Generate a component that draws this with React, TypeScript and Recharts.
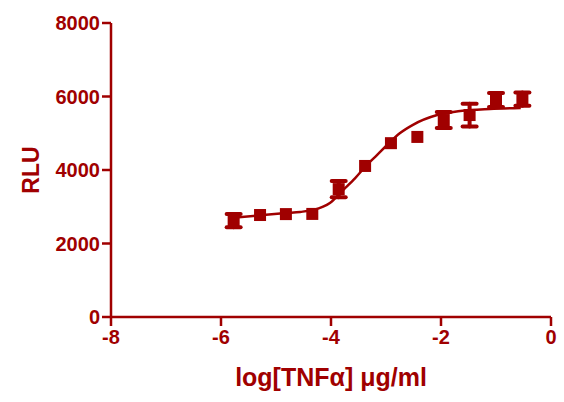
import { ComposedChart, Line, Scatter, ErrorBar, XAxis, YAxis, Label } from "recharts";

// measured points (3-fold dilutions), log10 concentration vs RLU
const logConc = [-5.77, -5.29, -4.82, -4.34, -3.86, -3.38, -2.91, -2.43, -1.95, -1.48, -1.0, -0.52];
const rlu = [2620, 2775, 2800, 2805, 3480, 4110, 4730, 4900, 5360, 5495, 5905, 5930];
// SEM, null where the bar is hidden by the marker
const rluErr = [180, null, null, null, 220, null, null, null, 220, 310, 190, 180];

// fitted sigmoid
const curveX = [-5.78, -5.24, -4.82, -4.56, -4.33, -4.02, -3.78, -3.56, -3.35, -3.16, -2.98, -2.75, -2.51, -2.07, -1.65, -1.11, -0.55];
const curveY = [2700, 2775, 2830, 2860, 2910, 3100, 3455, 3780, 4135, 4410, 4680, 5000, 5230, 5495, 5605, 5660, 5685];

const xTicks = [-8, -6, -4, -2, 0];
const yTicks = [0, 2000, 4000, 6000, 8000];

const RED = "#a00000";
const FONT = "Arial, 'Liberation Sans', Helvetica, sans-serif";

const points = logConc.map((x, i) => ({ x, y: rlu[i], err: rluErr[i] }));
const curve = curveX.map((x, i) => ({ x, y: curveY[i] }));

const SquareDot = (p: any) => (
  <rect x={p.cx - 6} y={p.cy - 6} width={12} height={12} fill={RED} />
);

export default function App() {
  const tick = { fill: RED, fontSize: 20, fontWeight: "bold", fontFamily: FONT };
  const axisLine = { stroke: RED, strokeWidth: 2.5 };

  return (
    <div style={{ width: 564, height: 402 }}>
      <style>{"body{margin:0}"}</style>
      <ComposedChart width={564} height={402} margin={{ top: 23, right: 13, left: 0, bottom: 0 }}>
        <XAxis
          type="number"
          dataKey="x"
          domain={[-8, 0]}
          ticks={xTicks}
          allowDataOverflow
          height={85}
          tick={tick}
          tickSize={9}
          tickMargin={4}
          axisLine={axisLine}
          tickLine={axisLine}
        >
          <Label
            value="log[TNFα] μg/ml"
            position="center"
            dy={18}
            fill={RED}
            fontSize={25}
            fontWeight="bold"
            fontFamily={FONT}
          />
        </XAxis>
        <YAxis
          type="number"
          dataKey="y"
          domain={[0, 8000]}
          ticks={yTicks}
          width={111}
          tick={tick}
          tickSize={9}
          tickMargin={2}
          axisLine={axisLine}
          tickLine={axisLine}
        >
          <Label
            value="RLU"
            angle={-90}
            position="center"
            dx={-25}
            fill={RED}
            fontSize={23}
            fontWeight="bold"
            fontFamily={FONT}
          />
        </YAxis>
        <Line
          data={curve}
          dataKey="y"
          type="monotone"
          stroke={RED}
          strokeWidth={2.5}
          dot={false}
          activeDot={false}
          isAnimationActive={false}
        />
        <Scatter data={points} dataKey="y" shape={SquareDot} isAnimationActive={false}>
          <ErrorBar dataKey="err" direction="y" width={7} stroke={RED} strokeWidth={4} strokeLinecap="round" />
        </Scatter>
      </ComposedChart>
    </div>
  );
}
